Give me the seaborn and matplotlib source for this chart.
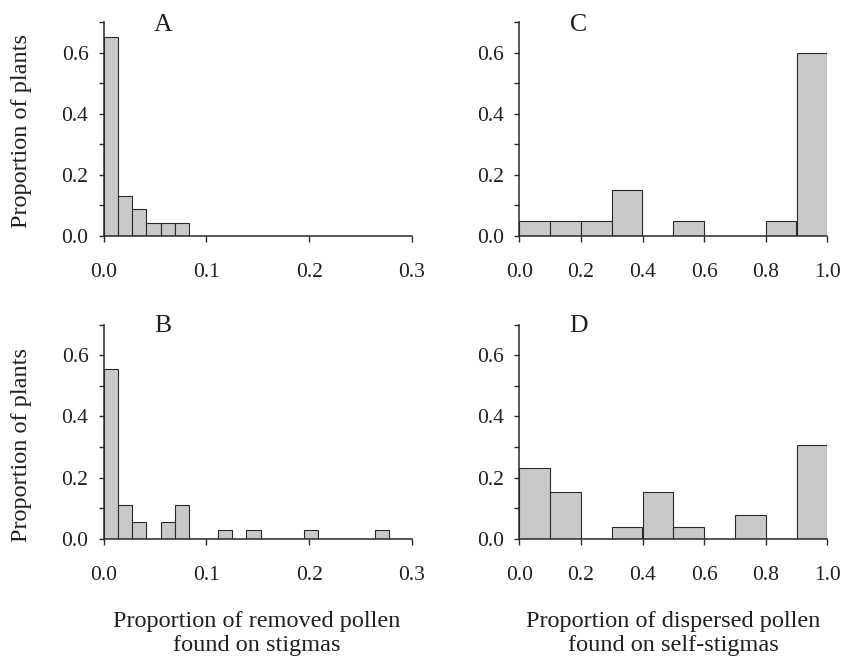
import numpy as np
import pandas as pd
import matplotlib
matplotlib.use("Agg")
import matplotlib.pyplot as plt
import seaborn as sns
from matplotlib.ticker import FixedLocator, FormatStrFormatter

# ---------------- data (proportion of plants per bin) ----------------
# Left column: proportion of removed pollen found on stigmas (21 bins, width 0.0139)
left_bin_width = 0.0139
props_A = [0.652, 0.130, 0.087, 0.043, 0.043, 0.043, 0, 0, 0, 0, 0,
           0, 0, 0, 0, 0, 0, 0, 0, 0, 0]
props_B = [0.556, 0.111, 0.056, 0.0, 0.056, 0.111, 0, 0, 0.028, 0, 0.028,
           0, 0, 0, 0.028, 0, 0, 0, 0, 0.028, 0]
# Right column: proportion of dispersed pollen found on self-stigmas (10 bins, width 0.1)
right_bin_width = 0.1
props_C = [0.05, 0.05, 0.05, 0.15, 0.0, 0.05, 0.0, 0.0, 0.05, 0.60]
props_D = [0.231, 0.154, 0.0, 0.038, 0.154, 0.038, 0.0, 0.077, 0.0, 0.308]

left_xticks = [0.0, 0.1, 0.2, 0.3]
right_xticks = [0.0, 0.2, 0.4, 0.6, 0.8, 1.0]
y_major = [0.0, 0.2, 0.4, 0.6]
y_minor = [0.1, 0.3, 0.5, 0.7]

panel_letters = ["A", "B", "C", "D"]
ylabel = "Proportion of plants"
xlabel_left = ["Proportion of removed pollen", "found on stigmas"]
xlabel_right = ["Proportion of dispersed pollen", "found on self-stigmas"]

# ---------------- style ----------------
sns.set_theme(style="ticks")
plt.rcParams["font.family"] = "serif"
plt.rcParams["font.serif"] = ["Liberation Serif", "DejaVu Serif"]
TXT = "#231f20"
BAR = "#c8c9cb"
FS_TICK = 15.5
FS_LAB = 17.5
FS_LET = 18.5

fig = plt.figure(figsize=(8.42, 6.58), dpi=100)
W, H = 842, 658

def rect(x0, x1, y0px, y1px):
    return [x0 / W, 1 - y0px / H, (x1 - x0) / W, (y0px - y1px) / H]

# axes rectangles in pixels: (left, right, y of 0.0, y of 0.7)
axA = fig.add_axes(rect(103.5, 412, 236, 22))
axB = fig.add_axes(rect(103.5, 412, 539, 324.5))
axC = fig.add_axes(rect(519.3, 827.3, 236, 22))
axD = fig.add_axes(rect(519.3, 827.3, 539, 324.5))

def draw(ax, props, width, xmax, xticks, letter, ly):
    n = len(props)
    edges = [float(k * width) for k in range(n + 1)]
    centers = [e + width / 2 for e in edges[:-1]]
    df = pd.DataFrame({"x": centers, "w": props})
    sns.histplot(data=df, x="x", weights="w", bins=edges, stat="count",
                 color=BAR, edgecolor="#2a2a2a", linewidth=0.8, alpha=1.0,
                 ax=ax)
    ax.set_xlim(0, xmax)
    ax.set_ylim(0, 0.7)
    ax.set_xlabel("")
    ax.set_ylabel("")
    sns.despine(ax=ax)
    for s in ["left", "bottom"]:
        ax.spines[s].set_color("#2a2a2a")
        ax.spines[s].set_linewidth(1.1)
    ax.xaxis.set_major_locator(FixedLocator(xticks))
    ax.yaxis.set_major_locator(FixedLocator(y_major))
    ax.yaxis.set_minor_locator(FixedLocator(y_minor))
    ax.xaxis.set_major_formatter(FormatStrFormatter("%.1f"))
    ax.yaxis.set_major_formatter(FormatStrFormatter("%.1f"))
    ax.tick_params(axis="x", which="major", direction="out", length=4.3,
                   width=1.0, color="#2a2a2a", pad=15, labelsize=FS_TICK,
                   labelcolor=TXT)
    ax.tick_params(axis="y", which="both", direction="out", length=3.6,
                   width=1.0, color="#2a2a2a", pad=7.2, labelsize=FS_TICK,
                   labelcolor=TXT)
    ax.patch.set_alpha(0)
    ax.text(0.193, ly, letter, transform=ax.transAxes, ha="center",
            va="baseline", fontsize=FS_LET, color=TXT)

draw(axA, props_A, left_bin_width, 0.3, left_xticks, panel_letters[0], 0.958)
draw(axB, props_B, left_bin_width, 0.3, left_xticks, panel_letters[1], 0.965)
draw(axC, props_C, right_bin_width, 1.0, right_xticks, panel_letters[2], 0.958)
draw(axD, props_D, right_bin_width, 1.0, right_xticks, panel_letters[3], 0.965)

fig.text(22 / W, 1 - 131 / H, ylabel, rotation=90, ha="center", va="center",
         fontsize=FS_LAB, color=TXT)
fig.text(22 / W, 1 - 445 / H, ylabel, rotation=90, ha="center", va="center",
         fontsize=FS_LAB, color=TXT)
for xc, lines in [(257, xlabel_left), (673, xlabel_right)]:
    fig.text(xc / W, 1 - 627 / H, lines[0], ha="center", va="baseline",
             fontsize=FS_LAB, color=TXT)
    fig.text(xc / W, 1 - 651 / H, lines[1], ha="center", va="baseline",
             fontsize=FS_LAB, color=TXT)

fig.savefig("out.png", dpi=100, facecolor="white")
